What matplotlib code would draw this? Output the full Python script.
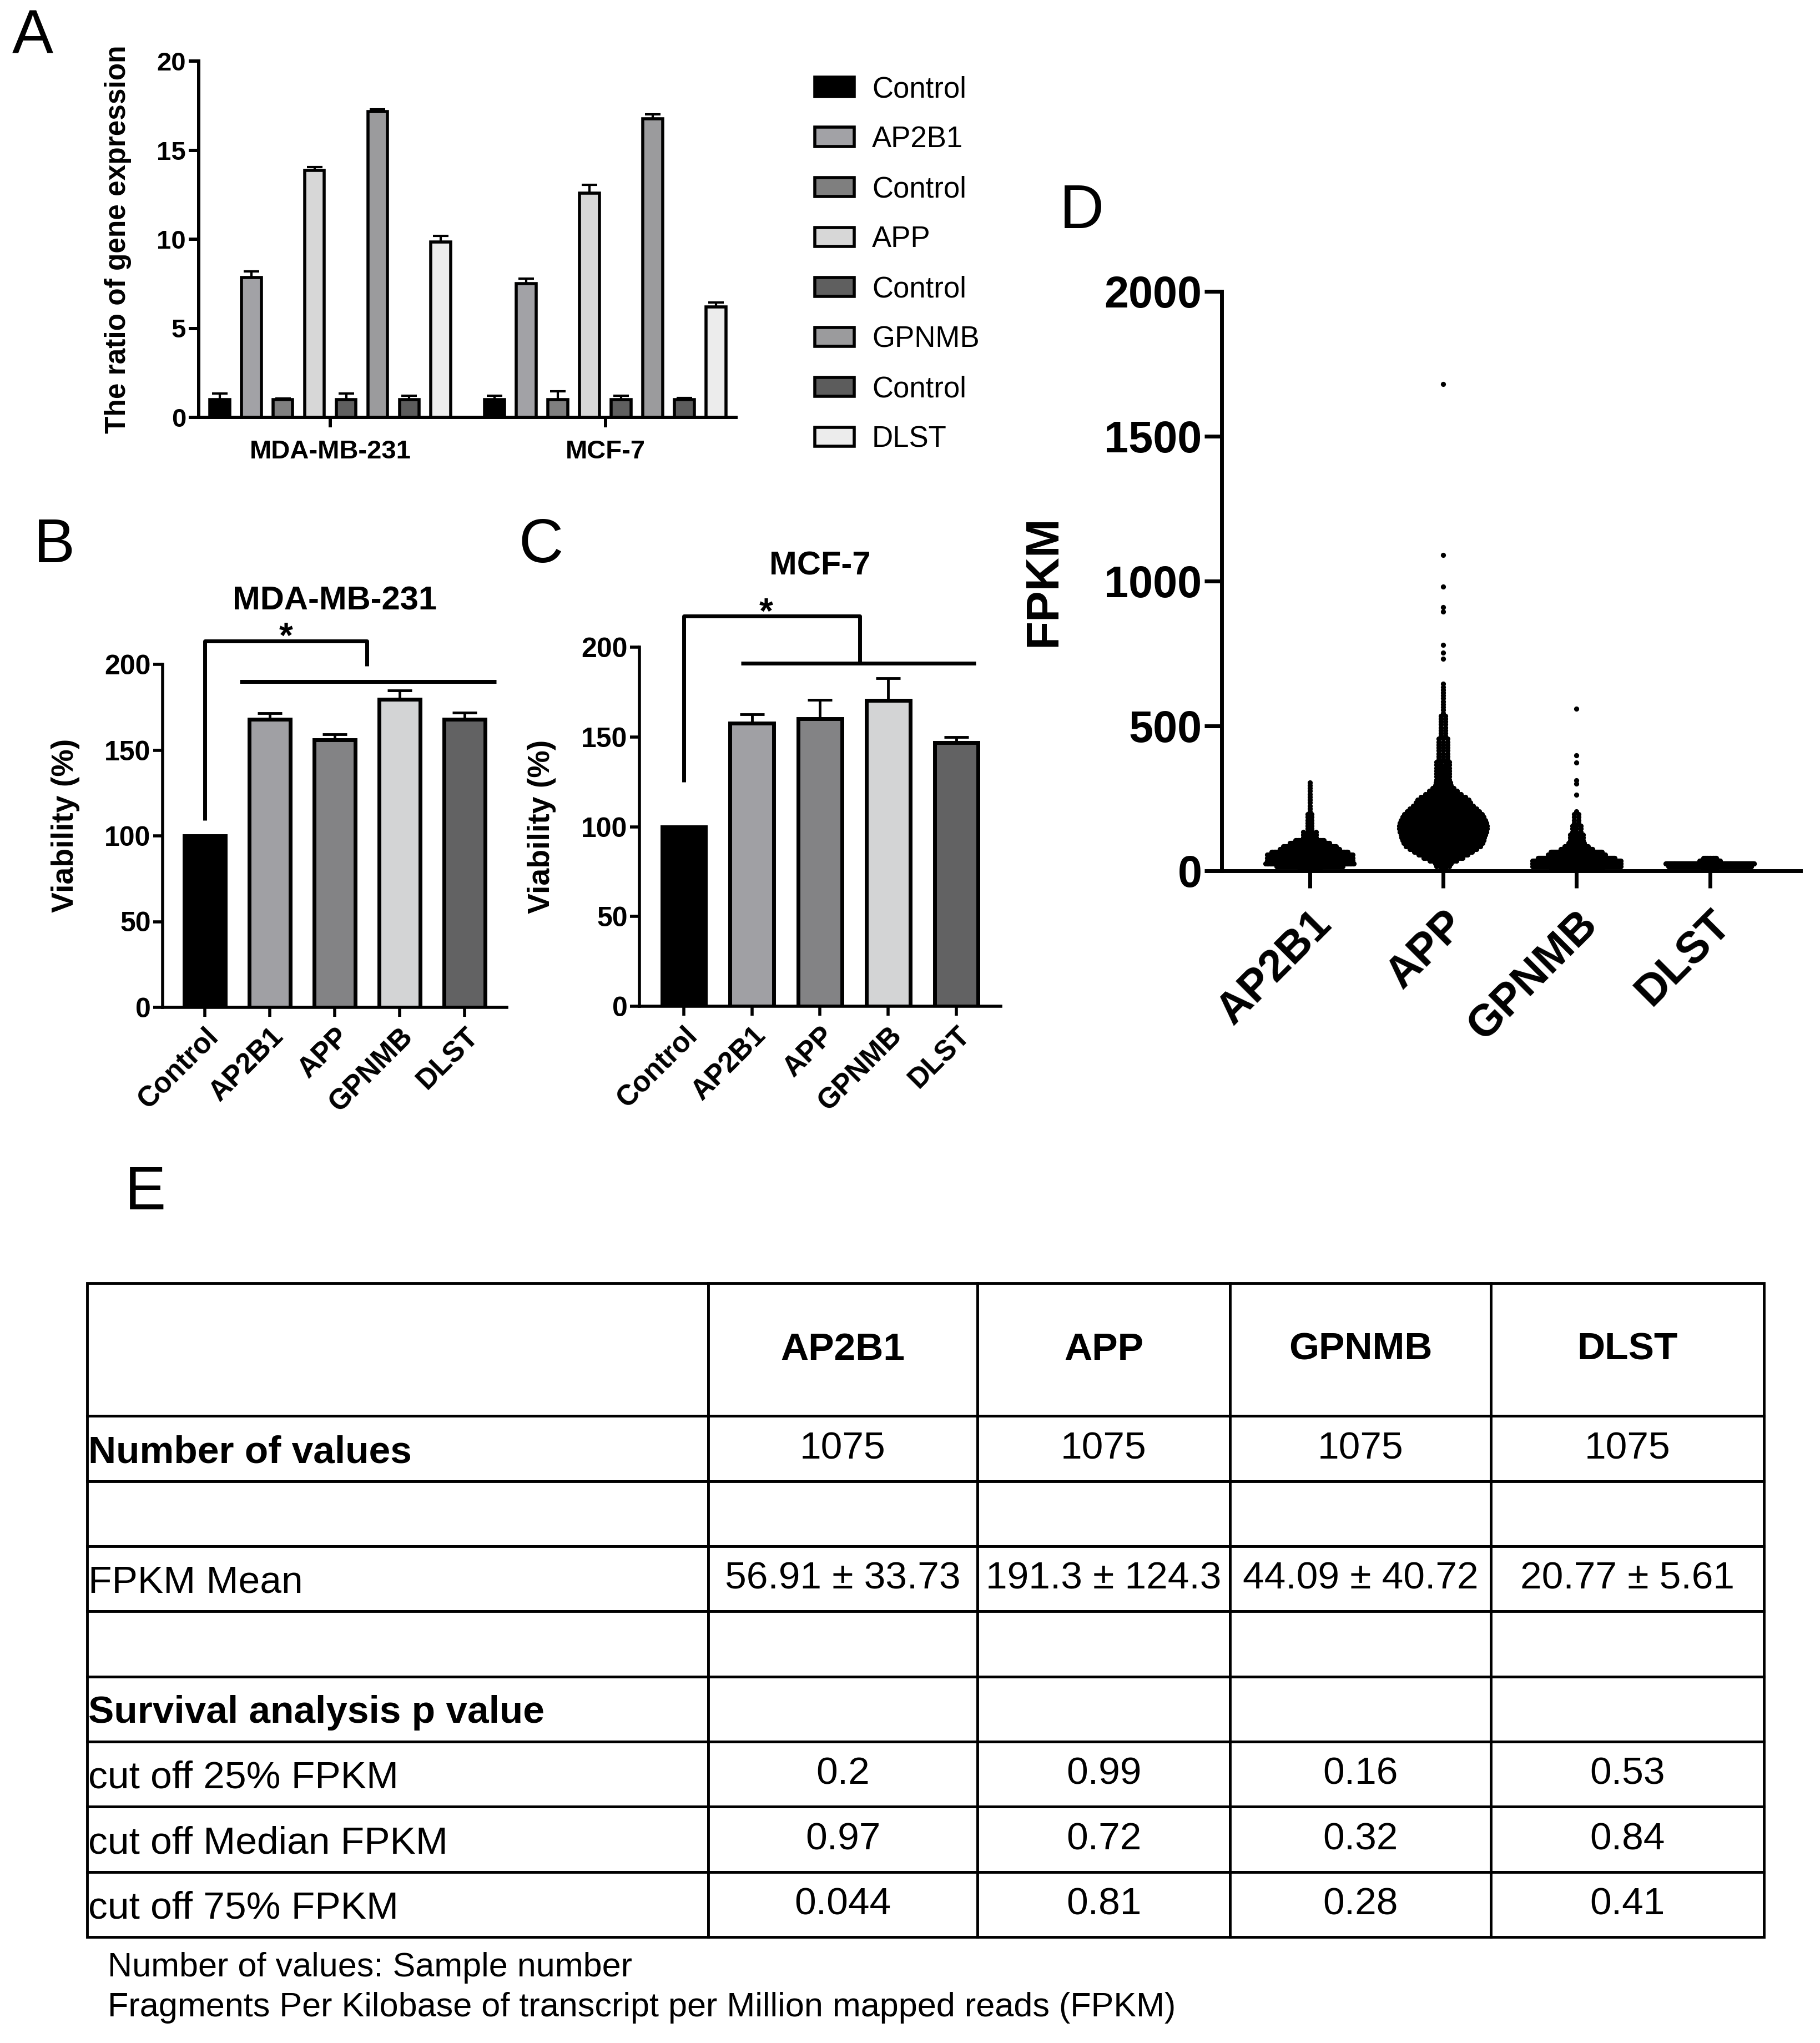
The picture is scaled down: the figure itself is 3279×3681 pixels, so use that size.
import numpy as np
import matplotlib
matplotlib.use("Agg")
import matplotlib.pyplot as plt

plt.rcParams["font.family"] = ["Liberation Sans", "DejaVu Sans"]

# ---- panel A: relative gene expression ----
a_groups = ["MDA-MB-231", "MCF-7"]
a_labels = ["Control", "AP2B1", "Control", "APP", "Control", "GPNMB", "Control", "DLST"]
a_colors = ["#000000", "#a2a2a6", "#7f7f7f", "#d7d7d7", "#5f5f5f", "#9b9b9d", "#5c5c5c", "#ececec"]
a_mda = [1.0, 7.85, 1.0, 13.85, 1.0, 17.15, 1.0, 9.85]
a_mda_err = [0.35, 0.35, 0.05, 0.2, 0.35, 0.15, 0.2, 0.35]
a_mcf = [1.0, 7.5, 1.0, 12.6, 1.0, 16.75, 1.0, 6.2]
a_mcf_err = [0.2, 0.3, 0.45, 0.45, 0.2, 0.25, 0.1, 0.25]

# ---- panels B / C: viability ----
bc_labels = ["Control", "AP2B1", "APP", "GPNMB", "DLST"]
bc_colors = ["#000000", "#a0a0a4", "#838385", "#d3d4d5", "#626263"]
b_vals = [100, 168, 156, 179.5, 168]
b_err = [0, 3.5, 3.3, 5.3, 4]
c_vals = [100, 157.7, 160.2, 170.4, 146.9]
c_err = [0, 5, 10.4, 12.2, 3]

# ---- panel D: FPKM per sample, counts per 10-FPKM level (5, 15, 25, ...) ----
d_genes = ["AP2B1", "APP", "GPNMB", "DLST"]
ap2b1_counts = [30, 100, 133, 129, 129, 129, 115, 90, 80, 59, 43, 6, 5, 4,
                2, 2, 2, 2, 2, 2, 1, 1, 1, 1, 1, 1, 1, 1, 1, 1, 1]
app_counts = [2, 5, 9, 15, 22, 28, 33, 38, 42, 45, 46, 47, 48, 49, 50, 50, 49, 48, 46, 44,
              41, 38, 34, 31, 29, 25, 20, 16, 12, 9, 8, 7, 6, 6, 5, 5, 4, 4, 3, 3,
              3, 3, 3, 3, 3, 3, 2, 2, 2, 2, 2, 2, 2, 2, 1, 1, 1, 1, 1, 1, 1, 1, 1, 1, 1]
app_outliers = [731, 753, 779, 894, 910, 980, 1090, 1680]
gpnmb_counts = [92, 160, 160, 160, 139, 104, 93, 58, 42, 28, 6, 5, 4, 3, 3, 3, 2, 2, 2, 2, 1]
gpnmb_outliers = [262, 300, 313, 373, 399, 560]
dlst_counts = [20, 450, 480, 110, 15]
dlst_outliers = []
ap2b1_outliers = []

# ---- panel E: table ----
e_header = ["", "AP2B1", "APP", "GPNMB", "DLST"]
e_rows = ["Number of values", "", "FPKM Mean", "", "Survival analysis p value",
          "cut off 25% FPKM", "cut off Median FPKM", "cut off 75% FPKM"]
e_bold_rows = ["Number of values", "Survival analysis p value"]
e_cells = [
    ["1075", "1075", "1075", "1075"],
    ["", "", "", ""],
    ["56.91 \u00b1 33.73", "191.3 \u00b1 124.3", "44.09 \u00b1 40.72", "20.77 \u00b1 5.61"],
    ["", "", "", ""],
    ["", "", "", ""],
    ["0.2", "0.99", "0.16", "0.53"],
    ["0.97", "0.72", "0.32", "0.84"],
    ["0.044", "0.81", "0.28", "0.41"],
]
e_notes = ["Number of values: Sample number",
           "Fragments Per Kilobase of transcript per Million mapped reads (FPKM)"]

W, H, DPI = 3279, 3681, 100
fig = plt.figure(figsize=(W / DPI, H / DPI), dpi=DPI)


def px_axes(left, top, right, bottom):
    return fig.add_axes([left / W, 1 - bottom / H, (right - left) / W, (bottom - top) / H])


def style_axes(ax, lw, tick_len, size):
    ax.spines["top"].set_visible(False)
    ax.spines["right"].set_visible(False)
    ax.spines["left"].set_linewidth(lw)
    ax.spines["bottom"].set_linewidth(lw)
    ax.tick_params(width=lw, length=tick_len, labelsize=size, direction="out")
    for t in ax.get_yticklabels() + ax.get_xticklabels():
        t.set_fontweight("bold")


# ---------- A ----------
axA = px_axes(358, 110, 1326, 752)
gap = 8.7
for i in range(8):
    xs = [i, gap + i]
    ys = [a_mda[i], a_mcf[i]]
    errs = [a_mda_err[i], a_mcf_err[i]]
    axA.bar(xs, ys, width=0.63, color=a_colors[i], edgecolor="black",
            linewidth=4, label=a_labels[i], zorder=2)
    axA.errorbar(xs, ys, yerr=[[0, 0], errs], fmt="none", ecolor="black",
                 elinewidth=3, capsize=10, capthick=3, zorder=3)
axA.set_xlim(-0.66, gap + 7 + 0.63)
axA.set_ylim(0, 20)
axA.set_yticks([0, 5, 10, 15, 20])
axA.set_xticks([3.5, gap + 3.5])
axA.set_xticklabels(a_groups)
axA.set_ylabel("The ratio of gene expression", fontsize=37, fontweight="bold")
style_axes(axA, 4.3, 13, 34)
axA.tick_params(axis="x", pad=16)
axA.yaxis.set_label_coords(-0.125, 0.5)
handles, labels = axA.get_legend_handles_labels()
fig.legend(handles, labels, loc="upper left", bbox_to_anchor=(1468 / W, 1 - 136 / H),
           frameon=False, fontsize=38, handlelength=1.35, handleheight=0.62,
           handletextpad=0.6, labelspacing=0.76, borderpad=0, borderaxespad=0)


# ---------- B and C ----------
def viability(ax, vals, errs, title, bracket, title_y):
    x = np.arange(len(vals))
    ax.bar(x, vals, width=0.64, color=bc_colors, edgecolor="black", linewidth=5, zorder=2)
    ax.errorbar(x[1:], vals[1:], yerr=[np.zeros(len(vals) - 1), errs[1:]], fmt="none",
                ecolor="black", elinewidth=3.5, capsize=16, capthick=3.5, zorder=3)
    ax.set_xlim(-0.65, len(vals) - 1 + 0.65)
    ax.set_ylim(0, 200)
    ax.set_yticks([0, 50, 100, 150, 200])
    ax.set_xticks(x)
    ax.set_xticklabels(bc_labels, rotation=45, ha="right", rotation_mode="anchor")
    ax.set_ylabel("Viability (%)", fontsize=40, fontweight="bold")
    style_axes(ax, 4, 12, 36)
    ax.tick_params(axis="x", labelsize=37, pad=8)
    top, left_end, right_x, right_end, long_y, long_l, long_r, star_x = bracket
    kw = dict(color="black", lw=5, clip_on=False, solid_capstyle="butt")
    ax.plot([0, 0, right_x, right_x], [left_end, top, top, right_end], **kw)
    ax.plot([long_l, long_r], [long_y, long_y], **kw)
    ax.text(star_x, top - 8, "*", ha="center", va="bottom", fontsize=46, fontweight="bold",
            clip_on=False)
    ax.text(2, title_y, title, ha="center", va="center", fontsize=43, fontweight="bold",
            clip_on=False)


axB = px_axes(293, 1197, 913, 1815)
viability(axB, b_vals, b_err, "MDA-MB-231", (213.5, 109, 2.5, 199, 190, 0.54, 4.49, 1.25), 237)
axB.yaxis.set_label_coords(-0.24, 0.53)

axC = px_axes(1152, 1166, 1803, 1813)
viability(axC, c_vals, c_err, "MCF-7", (217.4, 125, 2.58, 191, 191, 0.84, 4.28, 1.21), 245)
axC.yaxis.set_label_coords(-0.23, 0.5)


# ---------- D ----------
def swarm(center, levels_counts, outliers, width=0.66, dot=0.032):
    counts = list(levels_counts)
    levels = 5 + 10 * np.arange(len(counts))
    vals = np.concatenate([np.repeat(levels, counts), np.asarray(outliers, float)])
    u, n = np.unique(vals, return_counts=True)
    nmax = n.max()
    xs, ys = [], []
    for v, k in zip(u, n):
        half = max(width / 2 * k / nmax, dot / 2 * min(k - 1, 3))
        xs.extend(center + np.linspace(-half, half, k) if k > 1 else [center])
        ys.extend([v] * k)
    return np.array(xs), np.array(ys)


axD = px_axes(2201, 525, 3244, 1569)
d_data = [(ap2b1_counts, ap2b1_outliers), (app_counts, app_outliers),
          (gpnmb_counts, gpnmb_outliers), (dlst_counts, dlst_outliers)]
for i, (cnt, out) in enumerate(d_data):
    xs, ys = swarm(i, cnt, out)
    axD.scatter(xs, ys, s=44, color="black", linewidths=0, zorder=2, clip_on=False)
axD.set_xlim(-0.66, 3.68)
axD.set_ylim(0, 2000)
axD.set_yticks([0, 500, 1000, 1500, 2000])
axD.set_xticks(range(4))
axD.set_xticklabels(d_genes, rotation=45, ha="right", rotation_mode="anchor")
axD.set_ylabel("FPKM", fontsize=60, fontweight="bold")
style_axes(axD, 5, 22, 57)
axD.tick_params(axis="x", pad=20)
axD.yaxis.set_label_coords(-0.27, 0.5)

# ---------- E ----------
axE = px_axes(157, 2312, 3178, 3490)
axE.axis("off")
cell_text = [e_header] + [[r] + c for r, c in zip(e_rows, e_cells)]
col_w = np.array([1119, 485, 455, 470, 492], float)
tbl = axE.table(cellText=cell_text, colWidths=list(col_w / col_w.sum()), cellLoc="center",
                bbox=[0, 0, 1, 1])
tbl.auto_set_font_size(False)
tbl.set_fontsize(50)
for (r, c), cell in tbl.get_celld().items():
    cell.set_linewidth(3.5)
    cell.set_height(2.04 if r == 0 else 1.0)
    txt = cell.get_text()
    if r == 0:
        txt.set_fontweight("bold")
    if c == 0:
        txt.set_ha("left")
        txt.set_va("center_baseline")
        cell.PAD = 0.002
        if txt.get_text() in e_bold_rows:
            txt.set_fontweight("bold")

fig.text(194 / W, 1 - 3546 / H, e_notes[0], fontsize=44, va="center")
fig.text(194 / W, 1 - 3618 / H, e_notes[1], fontsize=44, va="center")

# panel letters
for letter, (x, y) in {"A": (59, 66), "B": (98, 984), "C": (974, 984),
                       "D": (1949, 382), "E": (262, 2150)}.items():
    fig.text(x / W, 1 - y / H, letter, fontsize=80, ha="center", va="center")

fig.savefig("out.png", dpi=DPI)
